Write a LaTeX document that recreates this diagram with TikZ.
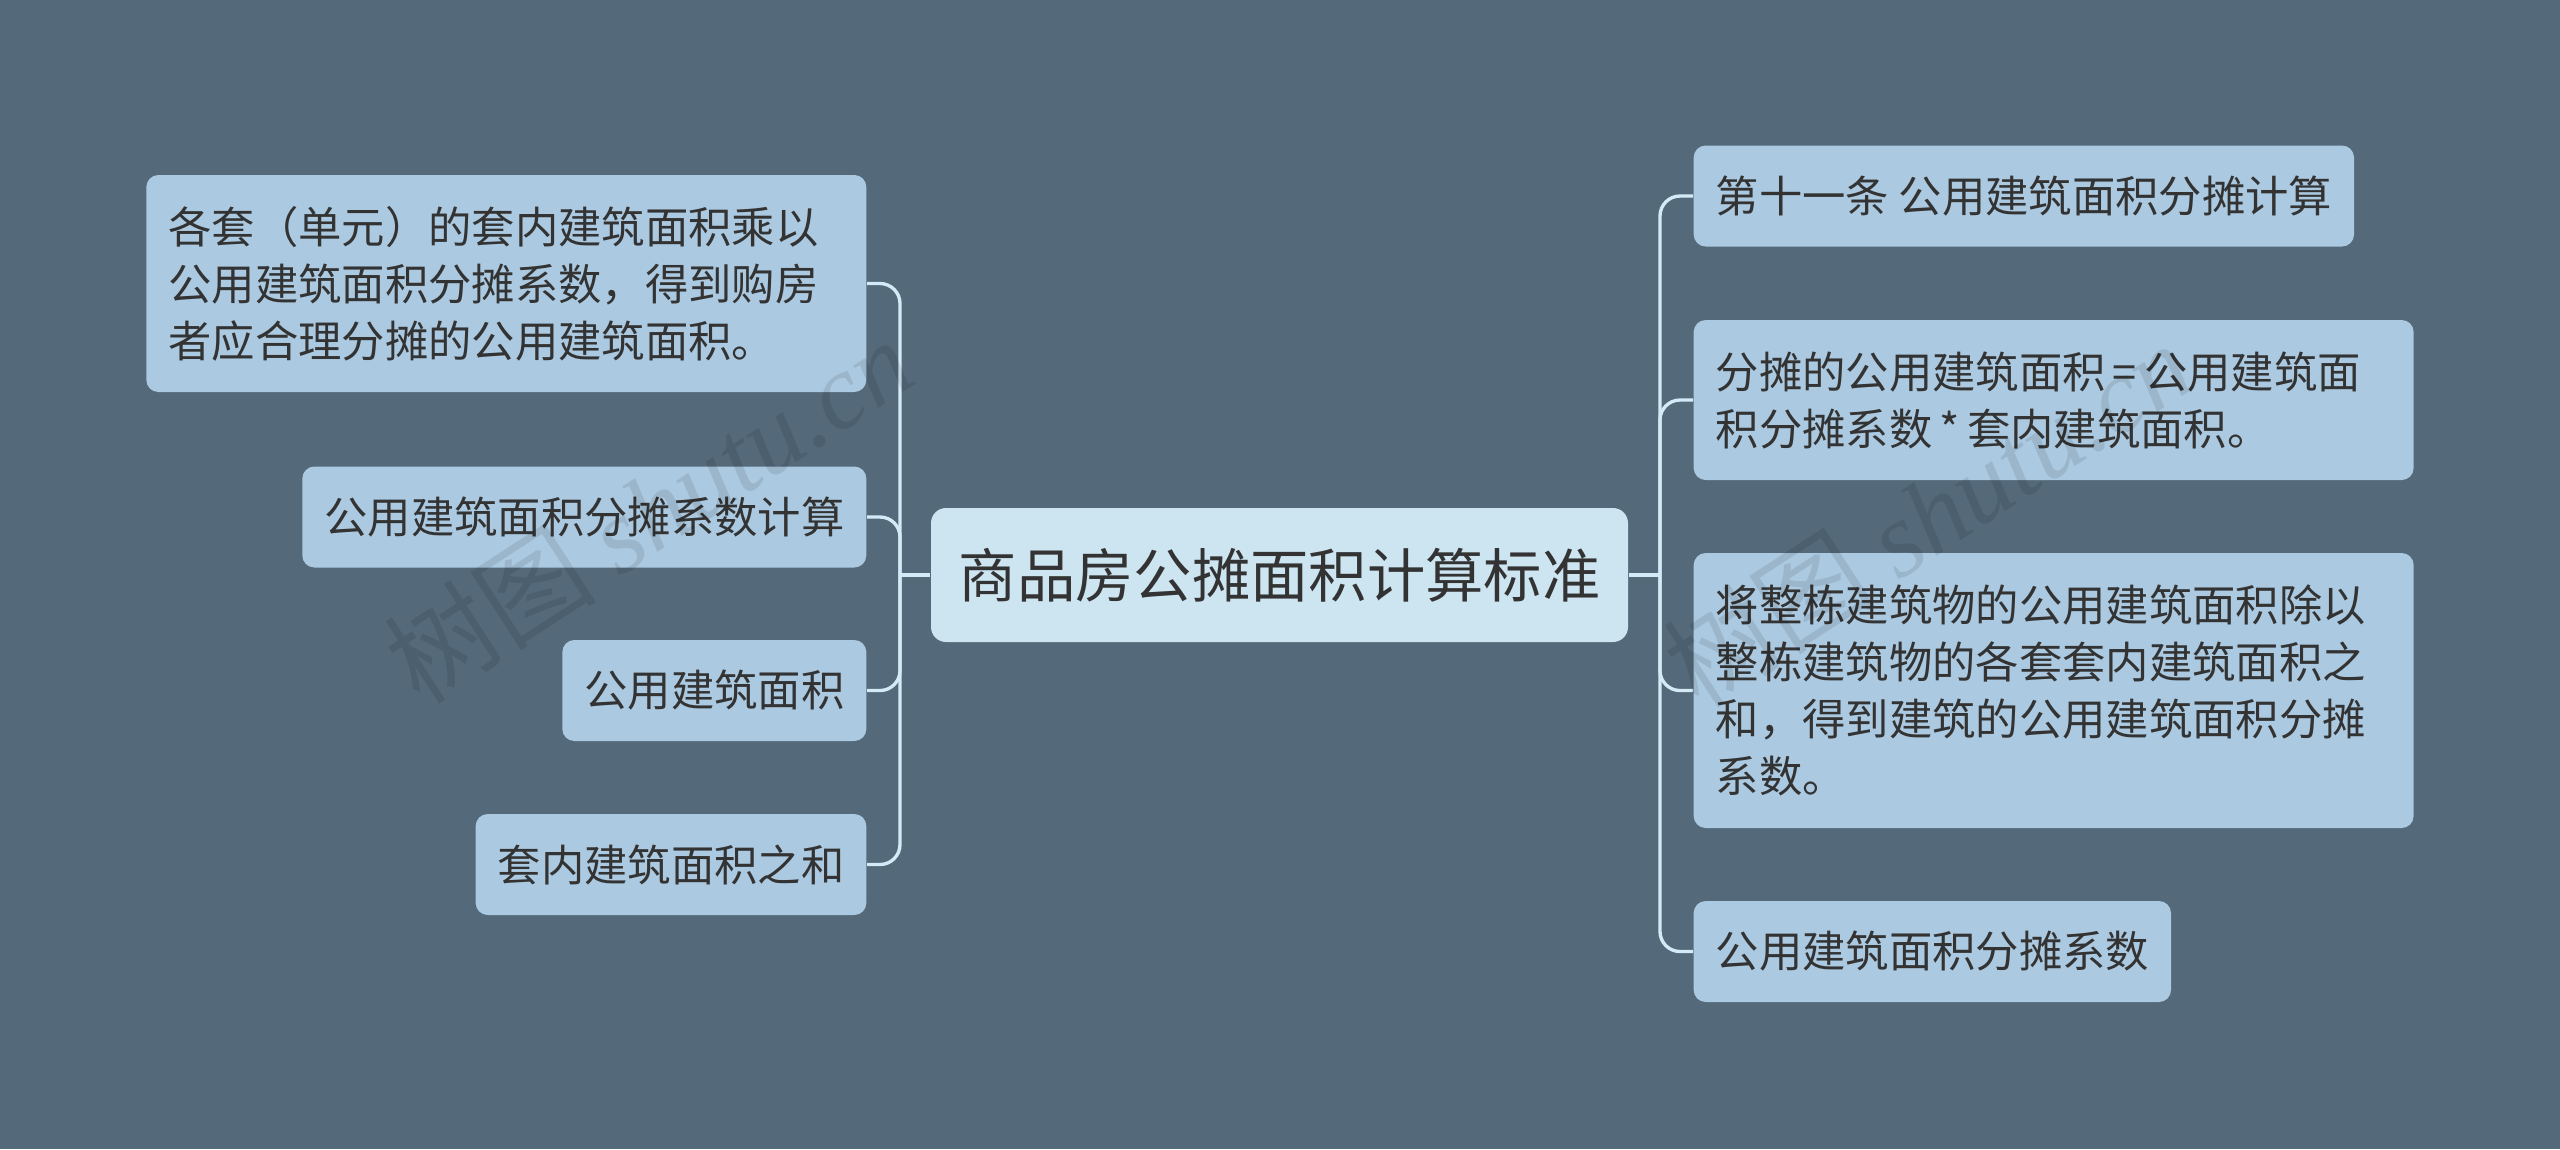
\documentclass[tikz,border=0pt]{standalone}
\usepackage{fontspec}
\setmainfont{Noto Sans CJK SC}
\newfontfamily\wmlatin{Liberation Serif}
\definecolor{bgc}{HTML}{546979}
\definecolor{leafc}{HTML}{ABC9E0}
\definecolor{centc}{HTML}{CDE4F1}
\definecolor{linec}{HTML}{D4EBF7}
\definecolor{textc}{HTML}{333333}
\tikzset{
  leaf/.style={fill=leafc, rounded corners=3.6pt, text=textc,
    font=\fontsize{13}{17.1}\selectfont, inner xsep=6.6pt, inner ysep=0pt,
    minimum height=30.3pt},
  multi/.style={leaf, text width=202.8pt, align=left},
  centre/.style={fill=centc, rounded corners=4.5pt, text=textc,
    font=\fontsize{17.5}{21}\selectfont, inner sep=0pt,
    minimum width=209.1pt, minimum height=40.2pt},
  conn/.style={draw=linec, line width=1pt},
  wm/.style={text=black, text opacity=0.09, rotate=33}
}
\begin{document}
\begin{tikzpicture}[x=0.3pt, y=-0.3pt]
\fill[bgc] (0,0) rectangle (2560,1149);
\useasboundingbox (0,0) rectangle (2560,1149);

\node[centre] (c) at (1279.5,575) {商品房公摊面积计算标准};

\node[multi, anchor=east, minimum height=65.1pt] (l1) at (867,283.5)
  {各套（单元）的套内建筑面积乘以\\公用建筑面积分摊系数，得到购房\\者应合理分摊的公用建筑面积。};
\node[leaf, anchor=east] (l2) at (867,517) {公用建筑面积分摊系数计算};
\node[leaf, anchor=east] (l3) at (867,690.5) {公用建筑面积};
\node[leaf, anchor=east] (l4) at (867,864.5) {套内建筑面积之和};

\node[leaf, anchor=west] (r1) at (1693,196) {第十一条 公用建筑面积分摊计算};
\node[multi, anchor=west, minimum height=48pt] (r2) at (1693,400)
  {分摊的公用建筑面积\,=\,公用建筑面\\积分摊系数\,*\,套内建筑面积。};
\node[multi, anchor=west, minimum height=82.5pt] (r3) at (1693,690.5)
  {将整栋建筑物的公用建筑面积除以\\整栋建筑物的各套套内建筑面积之\\和，得到建筑的公用建筑面积分摊\\系数。};
\node[leaf, anchor=west] (r4) at (1693,951.5) {公用建筑面积分摊系数};

\coordinate (lj) at (900,575);
\coordinate (rj) at (1660,575);
\draw[conn] (c.west) -- (lj);
\draw[conn] (c.east) -- (rj);
\foreach \n in {l1,l2,l3,l4} \draw[conn, rounded corners=6pt] (lj) |- (\n.east);
\foreach \n in {r1,r2,r3,r4} \draw[conn, rounded corners=6pt] (rj) |- (\n.west);

\node[wm] (w1) at (648,510) {\fontsize{32}{32}\selectfont 树图 {\wmlatin\itshape shutu.cn}};
\node[wm] (w2) at (1927,514) {\fontsize{32}{32}\selectfont 树图 {\wmlatin\itshape shutu.cn}};
\end{tikzpicture}
\end{document}
